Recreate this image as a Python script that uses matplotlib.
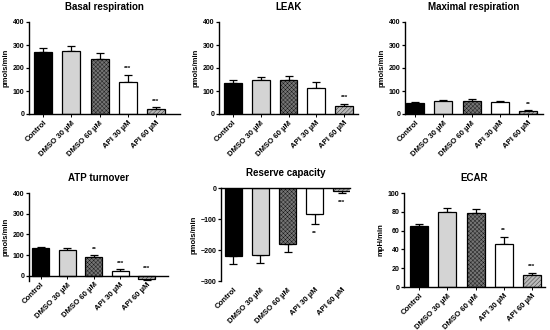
"""Mitochondrial respiration panels (six bar charts, GraphPad style)."""

import matplotlib
matplotlib.use("Agg")
import matplotlib.pyplot as plt
import numpy as np

plt.rcParams['font.family'] = ['Liberation Sans', 'DejaVu Sans']
plt.rcParams['hatch.linewidth'] = 0.25

groups = ["Control", "DMSO 30 µM", "DMSO 60 µM", "API 30 µM", "API 60 µM"]

basal = [268, 274, 240, 140, 22]
basal_err = [21, 21, 24, 30, 7]
basal_sig = ["", "", "", "***", "***"]

leak = [136, 147, 149, 114, 34]
leak_err = [14, 12, 15, 27, 9]
leak_sig = ["", "", "", "", "***"]

maximal = [46, 57, 57, 54, 12]
maximal_err = [5, 6, 9, 4, 4]
maximal_sig = ["", "", "", "", "**"]

atp = [133, 125, 90, 22, -16]
atp_err = [8, 9, 9, 10, 6]
atp_sig = ["", "", "**", "***", "***"]

reserve = [-219, -216, -181, -84, -9]
reserve_err = [26, 25, 26, 32, 7]
reserve_sig = ["", "", "", "**", "***"]

ecar = [65, 80, 79, 46, 12.5]
ecar_err = [2, 4, 4, 7, 2.5]
ecar_sig = ["", "", "", "**", "***"]

face = ["black", "#d4d4d4", "#747474", "white", "#b8b8b8"]
hatch = [None, None, "xxxxxxxx", None, "////////"]

W, H = 550, 330
fig = plt.figure(figsize=(W / 100, H / 100), dpi=100)


def px_axes(left, right, top, bottom):
    return fig.add_axes([left / W, 1 - bottom / H, (right - left) / W, (bottom - top) / H])


def panel(box, title, vals, errs, sig, ylim, yticks, xlim, ylabel="pmols/min", negative=False):
    ax = px_axes(*box)
    # spines first: moving a spine resets the tick labels
    ax.spines["right"].set_visible(False)
    ax.spines["left"].set_linewidth(1.0)
    if negative:
        ax.spines["bottom"].set_visible(False)
        ax.spines["top"].set_linewidth(1.0)
    else:
        ax.spines["top"].set_visible(False)
        ax.spines["bottom"].set_linewidth(1.0)
        if ylim[0] < 0:
            ax.spines["bottom"].set_position(("data", 0))

    x = np.arange(len(groups))
    ax.bar(x, vals, width=0.64, color=face, edgecolor="black", linewidth=0.9, hatch=hatch, zorder=2)
    for i, (v, e) in enumerate(zip(vals, errs)):
        if v >= 0:
            ax.errorbar(i, v, yerr=[[0], [e]], fmt="none", ecolor="black", elinewidth=0.9,
                        capsize=3, capthick=0.9, zorder=1)
        else:
            ax.errorbar(i, v, yerr=[[e], [0]], fmt="none", ecolor="black", elinewidth=0.9,
                        capsize=3, capthick=0.9, zorder=1)
    span = ylim[1] - ylim[0]
    for i, s in enumerate(sig):
        if not s:
            continue
        if negative:
            y = vals[i] - errs[i] - 0.1 * span
            va = "center"
        else:
            y = max(vals[i], 0) + errs[i] + 0.04 * span
            va = "bottom"
        ax.text(i, y, s, ha="center", va=va, fontsize=4.5, fontweight="bold")
    ax.set_xlim(*xlim)
    ax.set_ylim(*ylim)
    ax.set_yticks(yticks)
    ax.set_xticks(x)
    ax.set_xticklabels(groups, rotation=45, ha="right", va="top", rotation_mode="anchor",
                       fontsize=5.6, fontweight="bold")
    ax.tick_params(axis="y", labelsize=5, length=2.5, width=0.9, pad=1)
    ax.tick_params(axis="x", length=2, width=0.7, pad=2)
    if negative:
        ax.tick_params(axis="x", length=0, pad=4)
    for lab in ax.get_yticklabels():
        lab.set_fontweight("bold")
    ax.set_ylabel(ylabel, fontsize=5.5, fontweight="bold", labelpad=2)
    ax.set_title(title, fontsize=7, fontweight="bold", pad=9)
    return ax


panel((29, 180, 22, 114), "Basal respiration", basal, basal_err, basal_sig,
      (0, 400), [0, 100, 200, 300, 400], (-0.5, 4.85))
panel((219, 358, 22, 114), "LEAK", leak, leak_err, leak_sig,
      (0, 400), [0, 100, 200, 300, 400], (-0.5, 4.5))
panel((405, 543, 22, 114), "Maximal respiration", maximal, maximal_err, maximal_sig,
      (0, 400), [0, 100, 200, 300, 400], (-0.36, 4.53))
panel((29, 168, 193, 281), "ATP turnover", atp, atp_err, atp_sig,
      (-25, 400), [0, 100, 200, 300, 400], (-0.45, 4.8))
panel((221, 350, 188, 281), "Reserve capacity", reserve, reserve_err, reserve_sig,
      (-300, 0), [-300, -200, -100, 0], (-0.45, 4.3), negative=True)
panel((404, 545, 193, 287), "ECAR", ecar, ecar_err, ecar_sig,
      (0, 100), [0, 20, 40, 60, 80, 100], (-0.54, 4.46), ylabel="mpH/min")

fig.savefig("out.png", dpi=100)
